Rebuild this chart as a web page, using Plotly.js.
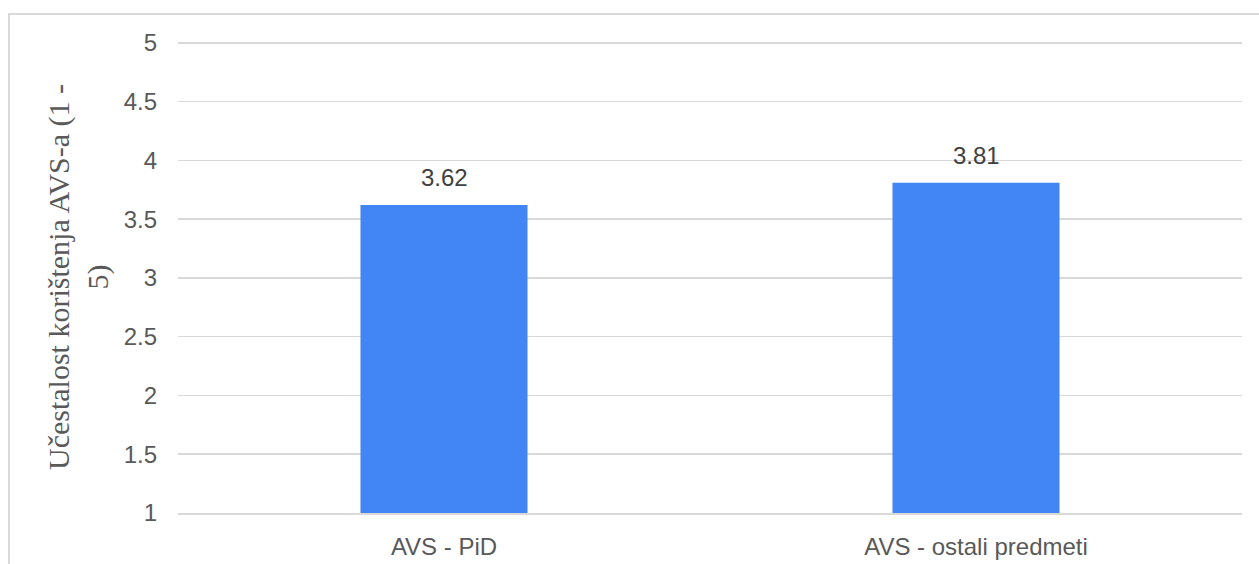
<!DOCTYPE html>
<html>
<head>
<meta charset="utf-8">
<script src="https://cdn.plot.ly/plotly-3.0.1.min.js"></script>
<style>
  html, body { margin: 0; padding: 0; background: #fff; }
  #chart { width: 1259px; height: 564px; }
  #frame { position: absolute; left: 8px; top: 13px; width: 1262px; height: 600px;
           border: 2px solid #d9d9d9; box-sizing: border-box; pointer-events: none; }
</style>
</head>
<body>
<div id="chart"></div>
<div id="frame"></div>
<script>
const categories = ["AVS - PiD", "AVS - ostali predmeti"];
const values = [3.62, 3.81];
const valueLabels = ["3.62", "3.81"];
const yTickVals = [1, 1.5, 2, 2.5, 3, 3.5, 4, 4.5, 5];
const yTickText = ["1", "1.5", "2", "2.5", "3", "3.5", "4", "4.5", "5"];

const trace = {
  type: "bar",
  x: categories,
  y: values,
  width: 0.314,
  marker: { color: "#4285F4" },
  hoverinfo: "none"
};

const annotations = categories.map((c, i) => ({
  x: c, y: values[i], xref: "x", yref: "y",
  text: valueLabels[i], showarrow: false,
  yanchor: "bottom", yshift: 12,
  font: { family: "Liberation Sans, Arial, sans-serif", size: 24, color: "#404040" }
}));

const layout = {
  width: 1259, height: 564,
  margin: { l: 178, r: 17, t: 41, b: 51 },
  paper_bgcolor: "#ffffff",
  plot_bgcolor: "#ffffff",
  showlegend: false,
  font: { family: "Liberation Sans, Arial, sans-serif", size: 24, color: "#595959" },
  xaxis: {
    type: "category",
    showgrid: false,
    showline: true,
    linecolor: "#d9d9d9",
    linewidth: 1.5,
    zeroline: false,
    ticks: "",
    ticklabelstandoff: 12,
    tickfont: { size: 24, color: "#595959" },
    fixedrange: true
  },
  yaxis: {
    range: [1, 5.015],
    tickvals: yTickVals,
    ticktext: yTickText,
    showgrid: true,
    gridcolor: "#d9d9d9",
    gridwidth: 1.5,
    zeroline: false,
    showline: false,
    ticks: "",
    ticklabelstandoff: 20,
    tickfont: { size: 24, color: "#595959" },
    automargin: false,
    title: {
      text: "Učestalost korištenja AVS-a (1 -<br>5)",
      font: { family: "Liberation Serif, Times New Roman, serif", size: 30, color: "#595959" },
      standoff: 6
    },
    fixedrange: true
  },
  annotations: annotations
};

Plotly.newPlot("chart", [trace], layout, { staticPlot: true, displayModeBar: false });
</script>
</body>
</html>
